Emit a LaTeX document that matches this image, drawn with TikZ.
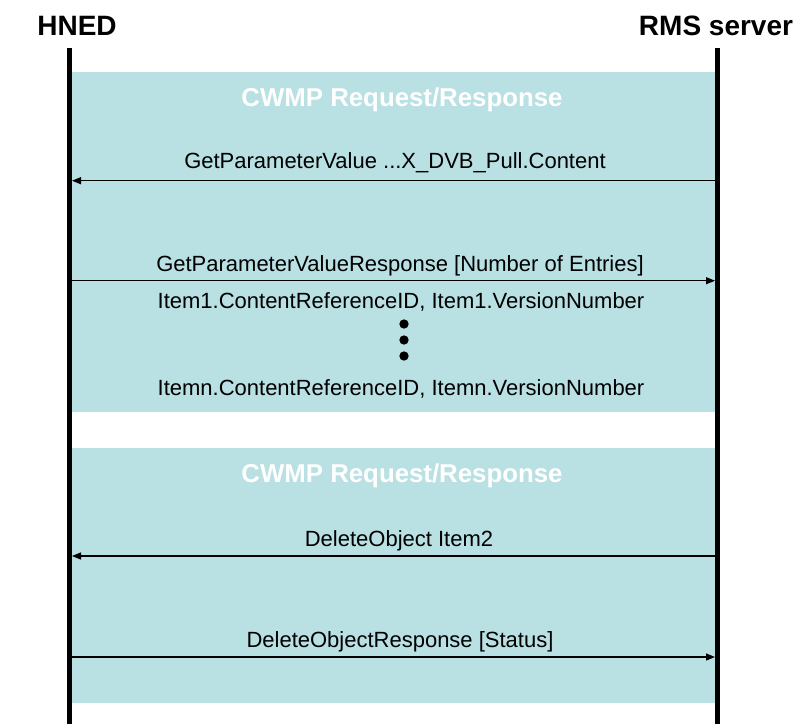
\documentclass[tikz,border=0pt]{standalone}
\usepackage{fontspec}
\setmainfont{Liberation Sans}
\usetikzlibrary{arrows.meta}
\definecolor{cwmpblue}{RGB}{185,224,227}

\begin{document}
\begin{tikzpicture}[x=1pt, y=-1pt,
        msg/.style={font=\fontsize{22}{26}\selectfont, anchor=base},
        head/.style={font=\fontsize{28}{32}\selectfont\bfseries, anchor=base},
        phase/.style={font=\fontsize{25.8}{30}\selectfont\bfseries, text=white, anchor=base},
        call/.style={line width=1.2pt, -{Triangle[length=9pt, width=7pt]}},
        lifeline/.style={line width=4.5pt}]
        \useasboundingbox (0,0) rectangle (796,724);

        \fill[cwmpblue] (72,72) rectangle (715,411.5);
        \fill[cwmpblue] (72,448) rectangle (715,703);

        \node[head] (hned) at (77,35) {HNED};
        \node[head] (rms) at (716,35) {RMS server};

        \coordinate (hned top) at (69.5,48);
        \coordinate (hned end) at (69.5,724);
        \coordinate (rms top) at (717.5,48);
        \coordinate (rms end) at (717.5,724);
        \draw[lifeline] (hned top) -- (hned end);
        \draw[lifeline] (rms top) -- (rms end);

        \node[phase] (phase1) at (402,106) {CWMP Request/Response};
        \node[phase] (phase2) at (402,482.5) {CWMP Request/Response};

        \coordinate (h1) at (72,180.7);  \coordinate (r1) at (715,180.7);
        \coordinate (h2) at (72,280.7);  \coordinate (r2) at (715,280.7);
        \coordinate (h3) at (72,556);    \coordinate (r3) at (715,556);
        \coordinate (h4) at (72,657);    \coordinate (r4) at (715,657);

        \draw[call] (r1) -- (h1);
        \draw[call] (h2) -- (r2);
        \draw[call] (r3) -- (h3);
        \draw[call] (h4) -- (r4);

        \node[msg] (get) at (395,168.3) {GetParameterValue ...X\_DVB\_Pull.Content};
        \node[msg] (getresp) at (400,271.7) {GetParameterValueResponse [Number of Entries]};
        \node[msg] (item1) at (401,308.3) {Item1.ContentReferenceID, Item1.VersionNumber};
        \node[msg] (itemn) at (401,395) {Itemn.ContentReferenceID, Itemn.VersionNumber};
        \node[msg] (del) at (399,546) {DeleteObject Item2};
        \node[msg] (delresp) at (400,647) {DeleteObjectResponse [Status]};

        \foreach \y [count=\i] in {324,340,356}
            \node[circle, fill=black, inner sep=3.3pt] (dot\i) at (404,\y) {};
\end{tikzpicture}
\end{document}
